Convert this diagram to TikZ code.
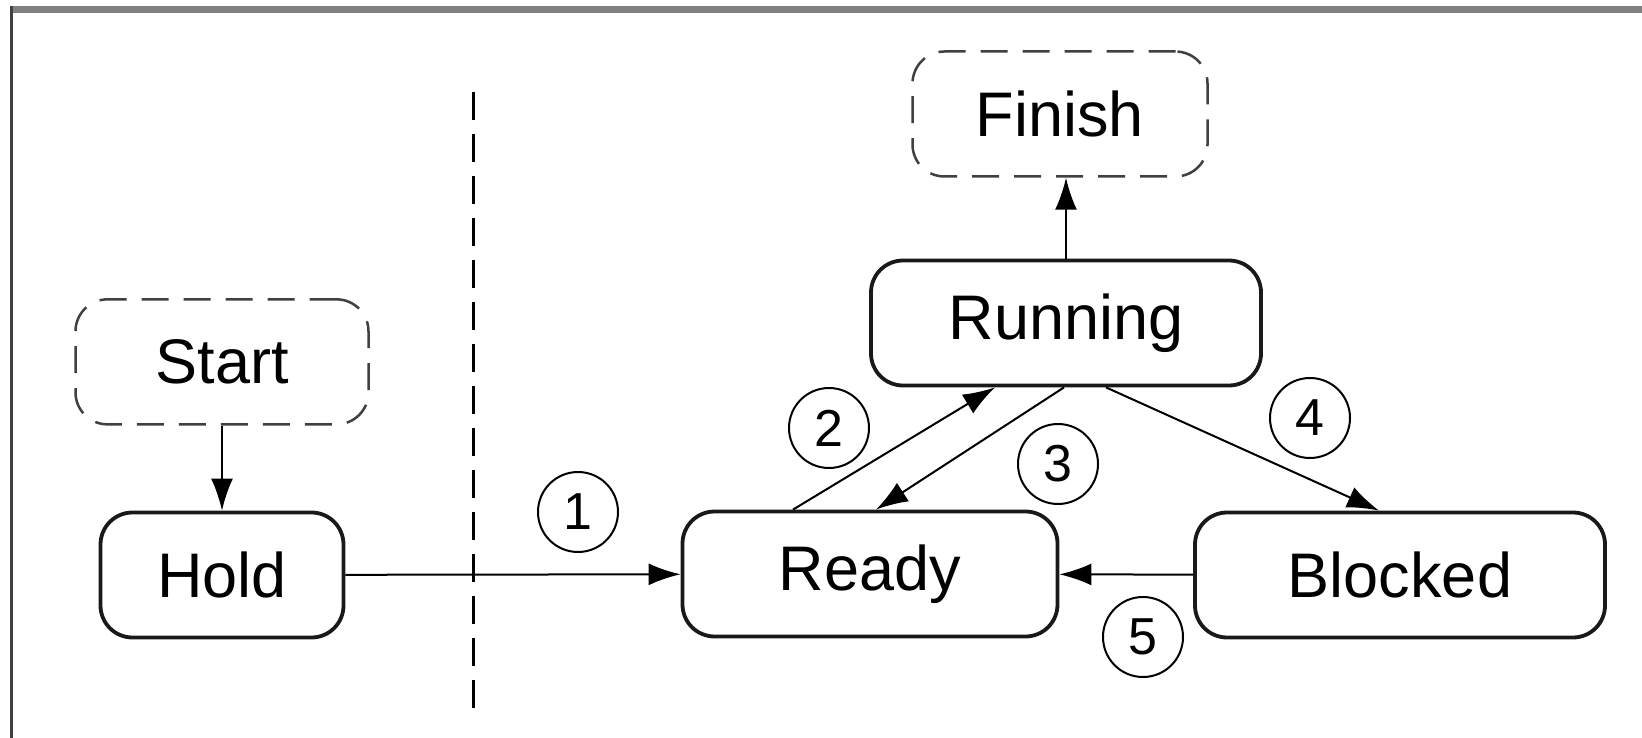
\documentclass[tikz,border=0pt]{standalone}
\usepackage{fontspec}
\setmainfont{Liberation Sans}
\usetikzlibrary{positioning,arrows.meta}

\begin{document}
\begin{tikzpicture}[
		x=1pt, y=-1pt,
		% 实线圆角框
		statenode/.style={rectangle, draw=black!90, line width=3.8pt, rounded corners=32pt, minimum height=125pt, inner sep=0pt, font=\fontsize{63}{63}\selectfont},
		% 虚线圆角框,开始和结束
		endnode/.style={statenode, draw=black!75, line width=2.5pt, dash pattern=on 27pt off 15pt},
		% 带圈的编号
		numnode/.style={circle, draw=black, line width=2pt, minimum size=80pt, inner sep=0pt, font=\fontsize{52}{52}\selectfont},
		arrowline/.style={line width=2pt, -{Latex[length=32pt,width=22pt]}},
		point/.style={coordinate}
	]
	\useasboundingbox (0,0) rectangle (1642,738);
	% 外框,只有上边和左边
	\draw[line width=7pt, black!50]   (10,9.5)   -- (1642,9.5);
	\draw[line width=3.5pt, black!75] (11.5,6)   -- (11.5,738);

	%Nodes
	\node[statenode, minimum width=243pt]   (hold)      at (222,575)                {Hold};
	\node[endnode, minimum width=293pt]     (start)     [above=85pt of hold]        {Start};
	\node[statenode, minimum width=375pt]   (ready)     at (870,574)                {Ready};
	\node[statenode, minimum width=410pt]   (blocked)   at (1400,575)               {Blocked};
	\node[statenode, minimum width=390pt]   (running)   at (1066,323)               {Running};
	\node[endnode, minimum width=295pt]     (finish)    at (1060,114)               {Finish};

	% 编号
	\node[numnode]      (num1)      at (578,512)        {1};
	\node[numnode]      (num2)      at (829,428)        {2};
	\node[numnode]      (num3)      at (1058,464)       {3};
	\node[numnode]      (num4)      at (1310,418)       {4};
	\node[numnode]      (num5)      at (1143,637)       {5};

	% 分隔线的两个端点
	\node[point]        (septop)    at (473,92)         {};
	\node[point]        (sepbot)    at (473,722)        {};

	%Lines
	\draw[line width=3pt, dash pattern=on 28pt off 14pt] (septop) -- (sepbot);
	\draw[arrowline] (start)                        --      (hold);
	\draw[arrowline] (hold)                         --      (ready);
	\draw[arrowline] (blocked)                      --      (ready);
	\draw[arrowline] (running.north)                --      (running.north |- finish.south);
	\draw[arrowline] ([xshift=-77pt]ready.north)    --      ([xshift=-71pt]running.south);
	\draw[arrowline] ([xshift=-2pt]running.south)   --      ([xshift=6pt]ready.north);
	\draw[arrowline] ([xshift=40pt]running.south)   --      ([xshift=-21pt]blocked.north);
\end{tikzpicture}
\end{document}
